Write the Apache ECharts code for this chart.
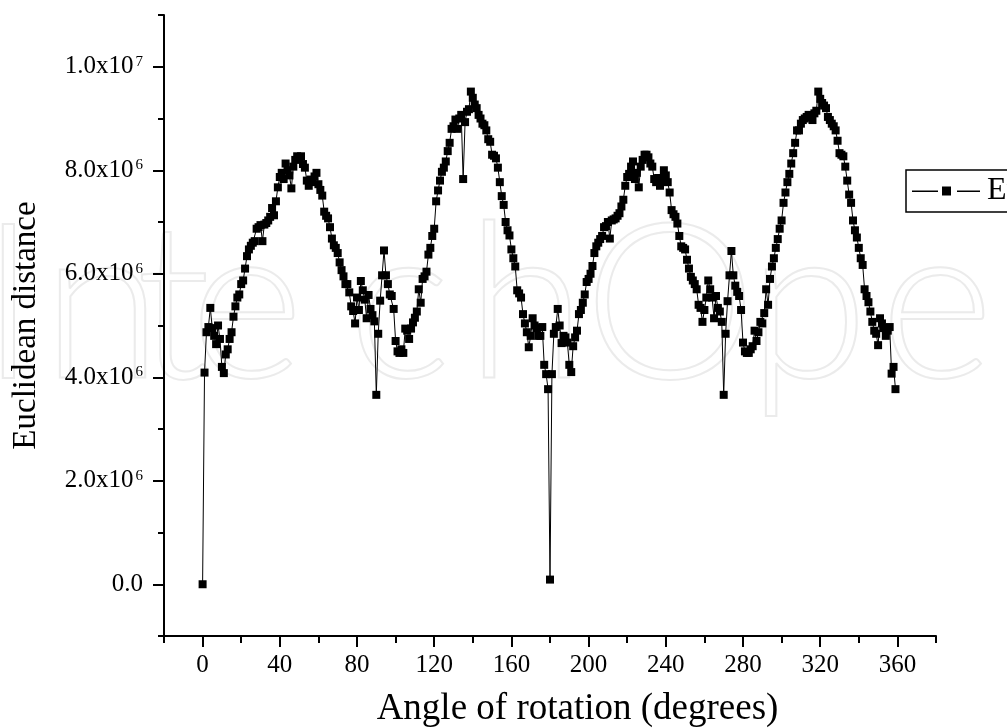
<!DOCTYPE html>
<html>
<head>
<meta charset="utf-8">
<script src="https://cdn.jsdelivr.net/npm/echarts@6/dist/echarts.min.js"></script>
<style>
  html, body { margin: 0; padding: 0; background: #ffffff; }
  #chart { width: 1007px; height: 728px; }
</style>
</head>
<body>
<div id="chart"></div>
<script>
// Euclidean distance (in units of 10^6) for every 1 degree of rotation
const angleStep = 1;
const dist000to089 = [
  0.00, 4.09, 4.87, 4.97, 5.34, 4.95, 4.80, 4.64, 5.00, 4.74,
  4.20, 4.08, 4.44, 4.54, 4.74, 4.87, 5.17, 5.37, 5.54, 5.60,
  5.80, 5.87, 6.10, 6.34, 6.47, 6.54, 6.60, 6.63, 6.87, 6.90,
  6.94, 6.63, 6.95, 6.98, 7.03, 7.10, 7.27, 7.13, 7.40, 7.67,
  7.87, 7.95, 7.83, 8.13, 8.00, 7.90, 7.65, 8.07, 8.20, 8.27,
  8.25, 8.27, 8.12, 8.05, 7.80, 7.70, 7.82, 7.77, 7.88, 7.95,
  7.73, 7.62, 7.51, 7.20, 7.12, 7.07, 6.90, 6.68, 6.55, 6.50,
  6.40, 6.22, 6.07, 5.95, 5.80, 5.80, 5.64, 5.37, 5.28, 5.04,
  5.54, 5.30, 5.86, 5.68, 5.50, 5.14, 5.59, 5.32, 5.20, 5.08
];
const dist090to179 = [
  3.66, 4.84, 5.48, 5.97, 6.45, 5.97, 5.80, 5.60, 5.57, 5.32,
  4.70, 4.50, 4.47, 4.54, 4.47, 4.94, 4.90, 4.74, 4.94, 5.06,
  5.15, 5.27, 5.70, 5.44, 5.90, 5.95, 6.04, 6.37, 6.50, 6.73,
  6.87, 7.40, 7.61, 7.80, 7.97, 8.05, 8.17, 8.37, 8.53, 8.80,
  8.85, 8.98, 8.80, 9.00, 9.07, 7.83, 8.93, 9.13, 9.18, 9.52,
  9.40, 9.27, 9.20, 9.07, 9.00, 8.90, 8.87, 8.77, 8.60, 8.55,
  8.30, 8.28, 8.23, 8.05, 7.77, 7.50, 7.33, 7.00, 6.84, 6.74,
  6.47, 6.30, 6.14, 5.68, 5.62, 5.54, 5.22, 5.04, 4.87, 4.58,
  4.80, 5.14, 5.00, 4.95, 4.80, 4.80, 4.97, 4.24, 4.06, 3.77
];
const dist180to269 = [
  0.09, 4.06, 4.84, 4.97, 5.32, 5.00, 4.66, 4.80, 4.77, 4.67,
  4.24, 4.10, 4.60, 4.77, 4.90, 5.22, 5.30, 5.44, 5.60, 5.84,
  5.90, 6.00, 6.15, 6.40, 6.53, 6.60, 6.67, 6.73, 6.90, 6.92,
  7.00, 6.68, 7.03, 7.05, 7.07, 7.12, 7.17, 7.30, 7.43, 7.70,
  7.87, 7.93, 8.07, 8.17, 7.83, 7.95, 7.67, 8.07, 8.20, 8.30,
  8.30, 8.25, 8.13, 8.07, 7.83, 7.77, 7.85, 7.70, 7.80, 8.00,
  7.90, 7.77, 7.57, 7.23, 7.15, 7.10, 6.97, 6.73, 6.53, 6.50,
  6.47, 6.27, 6.10, 5.94, 5.87, 5.80, 5.70, 5.40, 5.34, 5.07,
  5.30, 5.54, 5.87, 5.70, 5.54, 5.14, 5.57, 5.34, 5.27, 5.07
];
const dist270to359 = [
  3.66, 4.84, 5.47, 5.97, 6.44, 5.97, 5.77, 5.65, 5.57, 5.30,
  4.67, 4.50, 4.47, 4.47, 4.54, 4.60, 4.90, 4.70, 4.87, 5.07,
  5.04, 5.24, 5.70, 5.40, 5.90, 6.14, 6.30, 6.50, 6.67, 6.87,
  7.03, 7.37, 7.57, 7.77, 7.93, 8.13, 8.33, 8.53, 8.77, 8.77,
  8.90, 8.97, 9.00, 9.03, 9.07, 9.05, 8.97, 9.10, 9.15, 9.52,
  9.38, 9.30, 9.25, 9.20, 9.03, 8.97, 8.90, 8.85, 8.77, 8.57,
  8.33, 8.30, 8.27, 8.07, 7.80, 7.53, 7.37, 7.03, 6.84, 6.70,
  6.50, 6.30, 6.17, 5.70, 5.57, 5.45, 5.27, 5.07, 4.90, 4.84,
  4.62, 5.14, 5.04, 4.95, 4.80, 4.90, 4.97, 4.07, 4.20, 3.77
];

// Axis ticks (y values in units of 10^6)
const xMajorTicks = [0, 40, 80, 120, 160, 200, 240, 280, 320, 360];
const xMinorTicks = [-20, 20, 60, 100, 140, 180, 220, 260, 300, 340, 380];
const yMajorTicks = [0, 2, 4, 6, 8, 10];
const yMinorTicks = [-1, 1, 3, 5, 7, 9, 11];

const seriesName = 'Euclidean distance';
const xTitle = 'Angle of rotation (degrees)';
const yTitle = 'Euclidean distance';
const watermarkLetters = ['I', 'n', 't', 'e', 'c', 'h', 'O', 'p', 'e', 'n'];

const SERIF = '"Liberation Serif", "DejaVu Serif", serif';

const distance = [].concat(dist000to089, dist090to179, dist180to269, dist270to359);
const points = distance.map((v, i) => [i * angleStep, v]);

function sciLabel(v) {
  if (v === 0) return '0.0';
  const full = v * 1e6;
  const e = Math.floor(Math.log10(full) + 1e-9);
  const m = (full / Math.pow(10, e)).toFixed(1);
  return '{m|' + m + 'x10}{e|' + e + '}';
}

// faint outlined lettering in the background
const wmX = [-20, 42, 136, 190, 348, 466, 584, 748, 880, 1004];
const watermark = watermarkLetters.map((ch, i) => ({
  type: 'text',
  x: wmX[i],
  y: 417,
  silent: true,
  z: -10,
  style: {
    text: ch,
    font: '300 218px Lato, "Open Sans", sans-serif',
    fill: 'none',
    stroke: '#ebebeb',
    lineWidth: 2,
    verticalAlign: 'bottom'
  }
}));

const axisColor = '#000';
const chart = echarts.init(document.getElementById('chart'), null, { renderer: 'canvas' });
chart.setOption({
  animation: false,
  backgroundColor: '#ffffff',
  graphic: watermark,
  grid: { left: 164, right: 71, top: 15, bottom: 92, containLabel: false, outerBoundsMode: 'none' },
  legend: {
    data: [seriesName],
    left: 906,
    top: 170,
    itemWidth: 68,
    itemHeight: 9,
    icon: 'path://M0,4h26v1.4H0z M30,0h9v9h-9z M45,4h23v1.4H45z',
    borderColor: '#000',
    borderWidth: 1.5,
    borderRadius: 0,
    padding: [5, 10, 5, 6],
    itemStyle: { color: '#000' },
    textStyle: { fontFamily: SERIF, fontSize: 32, color: '#000', padding: [0, 0, 0, 2] }
  },
  xAxis: [
    {
      type: 'value', min: -20, max: 380, position: 'bottom',
      axisLine: { onZero: false, lineStyle: { color: axisColor, width: 2 } },
      axisTick: { show: true, inside: false, length: 11, customValues: xMajorTicks,
                  lineStyle: { color: axisColor, width: 2 } },
      axisLabel: { customValues: xMajorTicks, margin: 17, color: '#000',
                   fontFamily: SERIF, fontSize: 25 },
      splitLine: { show: false },
      name: xTitle, nameLocation: 'middle', nameGap: 55,
      nameTextStyle: { fontFamily: SERIF, fontSize: 37, color: '#000', padding: [0, 0, 0, 55] }
    },
    {
      type: 'value', min: -20, max: 380, position: 'bottom',
      axisLine: { show: false, onZero: false },
      axisTick: { show: true, inside: false, length: 7, customValues: xMinorTicks,
                  lineStyle: { color: axisColor, width: 2 } },
      axisLabel: { show: false },
      splitLine: { show: false }
    }
  ],
  yAxis: [
    {
      type: 'value', min: -1, max: 11, position: 'left',
      axisLine: { show: true, onZero: false, lineStyle: { color: axisColor, width: 2 } },
      axisTick: { show: true, inside: false, length: 11, customValues: yMajorTicks,
                  lineStyle: { color: axisColor, width: 2 } },
      axisLabel: {
        customValues: yMajorTicks, margin: 21, formatter: sciLabel,
        color: '#000', fontFamily: SERIF, fontSize: 25,
        rich: {
          m: { fontFamily: SERIF, fontSize: 25, color: '#000' },
          e: { fontFamily: SERIF, fontSize: 15, color: '#000', verticalAlign: 'top', padding: [0, 0, 0, 2] }
        }
      },
      splitLine: { show: false },
      name: yTitle, nameLocation: 'middle', nameGap: 121,
      nameTextStyle: { fontFamily: SERIF, fontSize: 33, color: '#000' }
    },
    {
      type: 'value', min: -1, max: 11, position: 'left',
      axisLine: { show: false, onZero: false },
      axisTick: { show: true, inside: false, length: 6, customValues: yMinorTicks,
                  lineStyle: { color: axisColor, width: 2 } },
      axisLabel: { show: false },
      splitLine: { show: false }
    }
  ],
  series: [
    {
      type: 'line',
      name: seriesName,
      xAxisIndex: 0,
      yAxisIndex: 0,
      data: points,
      symbol: 'rect',
      symbolSize: 8,
      showAllSymbol: true,
      itemStyle: { color: '#000' },
      lineStyle: { color: '#000', width: 1 },
      z: 3
    }
  ]
});
</script>
</body>
</html>
